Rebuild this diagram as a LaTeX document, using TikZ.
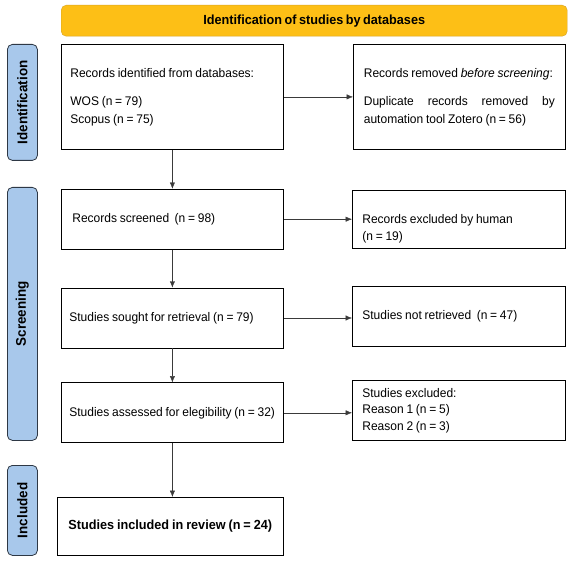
\documentclass[tikz,border=0pt]{standalone}
\usepackage{fontspec}
\setmainfont{Liberation Sans}[FakeStretch=0.96,WordSpace=0.7]
\usepackage{tikz}
\usetikzlibrary{arrows.meta,positioning,calc}
\definecolor{prismayellow}{HTML}{FDBF16}
\definecolor{prismagold}{HTML}{D6A325}
\definecolor{prismablue}{HTML}{A8C8EB}
\definecolor{prismaslate}{HTML}{2E3845}
\definecolor{prismagray}{HTML}{3A3A3A}

\begin{document}
\begin{tikzpicture}[
    x=1pt,y=1pt,
    font=\fontsize{12.5}{17.5}\selectfont,
    box/.style={draw=black,fill=white,thick,minimum height=60pt,align=left,text width=#1,inner xsep=8pt,inner ysep=0pt,
      execute at begin node={\spaceskip=0.22em plus 0.1em minus 0.05em\relax}},
    box/.default=206pt,
    phase/.style={draw=prismaslate,fill=prismablue,rounded corners=5pt,thick,minimum width=30pt},
    phasetext/.style={rotate=90,font=\fontsize{14}{16}\selectfont\bfseries},
    arr/.style={-{Latex[length=2.2mm,width=1.8mm]},draw=prismagray}
  ]
    \useasboundingbox (0,0) rectangle (573,-561);

    % header bar
    \node[draw=prismagold,fill=prismayellow,rounded corners=5pt,minimum width=506pt,minimum height=31pt,anchor=north west,font=\fontsize{13.2}{15}\selectfont\bfseries] (head) at (61,-5) {Identification of studies by databases};

    % left column
    \node[box,minimum height=105pt,anchor=north west,inner xsep=9pt,text width=204pt] (ident) at (61,-44) {Records identified from databases:\\[11pt]WOS (n = 79)\\Scopus (n = 75)};
    \node[box,below=39pt of ident,inner xsep=11pt,text width=200pt] (screen) {Records screened~ (n = 98)};
    \node[box,below=38pt of screen] (sought) {Studies sought for retrieval (n = 79)};
    \node[box,below=34pt of sought] (assess) {Studies assessed for elegibility (n = 32)};
    \node[box=204pt,minimum height=58pt,anchor=north west,inner xsep=11pt,font=\fontsize{13.2}{17.5}\selectfont\bfseries] (incl) at (57,-497) {Studies included in review (n = 24)};

    % right column
    \node[box=191pt,minimum height=105pt,anchor=north west,inner xsep=10.5pt,align=justify] (removed) at (353,-44) {Records removed \emph{before screening}:\par\vspace{11pt}Duplicate records removed by \mbox{automation} tool Zotero (n = 56)};
    \node[box=193pt,minimum height=58pt,anchor=north west,inner xsep=10pt] (excl) at (352,-190) {\rule{0pt}{28pt}Records excluded by human\\(n = 19)};
    \node[box=193pt,anchor=north west,inner xsep=10pt] (notret) at (352,-286) {Studies not retrieved~ (n = 47)};
    \node[box=193pt,anchor=north west,inner xsep=10pt,font=\fontsize{12.5}{16.5}\selectfont] (studexcl) at (352,-380) {Studies excluded:\\Reason 1 (n = 5)\\Reason 2 (n = 3)};

    % phase labels
    \node[phase,minimum height=116pt,anchor=north west] (phid) at (7,-44) {};
    \node[phasetext] at (phid) {Identification};
    \node[phase,minimum height=253pt,anchor=north west] (phscr) at (7,-187) {};
    \node[phasetext] at (phscr) {Screening};
    \node[phase,minimum height=90pt,anchor=north west] (phinc) at (7,-465) {};
    \node[phasetext] at (phinc) {Included};

    % arrows
    \draw[arr] (ident) -- (screen);
    \draw[arr] (screen) -- (sought);
    \draw[arr] (sought) -- (assess);
    \draw[arr] (assess.south) -- (assess.south |- incl.north);
    \draw[arr] (ident.east) -- (ident.east -| removed.west);
    \draw[arr] (screen.east) -- (screen.east -| excl.west);
    \draw[arr] (sought.east) -- (sought.east -| notret.west);
    \draw[arr] (assess.east) -- (assess.east -| studexcl.west);
  \end{tikzpicture}
\end{document}
